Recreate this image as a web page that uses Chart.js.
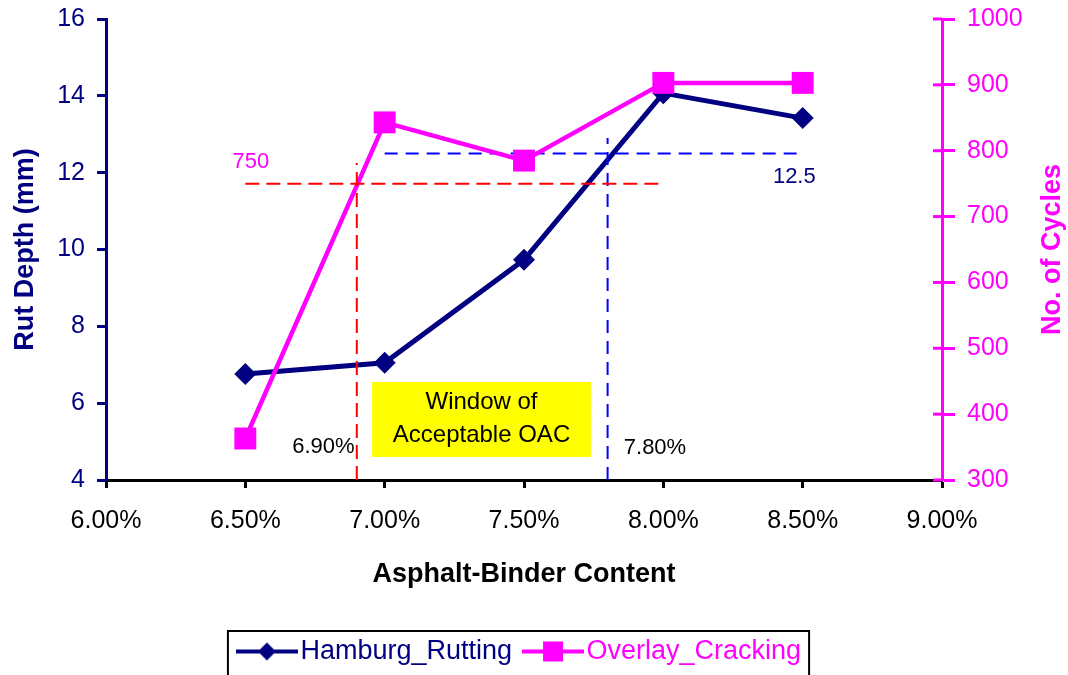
<!DOCTYPE html>
<html>
<head>
<meta charset="utf-8">
<script src="https://cdn.jsdelivr.net/npm/chart.js@4"></script>
<style>
  body { margin: 0; background: #fff; }
  #wrap { width: 1068px; height: 675px; }
</style>
</head>
<body>
<div id="wrap"><canvas id="chart" width="1068" height="675"></canvas></div>
<script>
// Data
const binderContent = [6.5, 7.0, 7.5, 8.0, 8.5];        // %
const rutDepth = [6.76, 7.05, 9.73, 14.07, 13.42];      // mm (left axis)
const overlayCycles = [363, 843, 785, 903, 903];        // cycles (right axis)

// Reference / criteria lines
const cycleLimit = 750;       // red horizontal, right axis
const rutLimit = 12.5;        // blue horizontal, left axis
const oacLow = 6.9;           // red vertical
const oacHigh = 7.8;          // blue vertical
const redLineX = [6.5, 8.0];
const blueLineX = [7.0, 8.5];
const redVertTop = 12.25;
const blueVertTop = 12.9;

// Axis ranges
const xMin = 6, xMax = 9, xStep = 0.5;
const rutMin = 4, rutMax = 16, rutStep = 2;
const cycMin = 300, cycMax = 1000, cycStep = 100;

const NAVY = '#000080';
const MAGENTA = '#FF00FF';
const FONT = "'Liberation Sans', Arial, sans-serif";

// small legend symbols: a line with the series marker on it
function legendSymbol(color, marker) {
    const c = document.createElement('canvas');
    c.width = 62; c.height = 30;
    const g = c.getContext('2d');
    g.strokeStyle = color;
    g.lineWidth = 4;
    g.beginPath();
    g.moveTo(0, 15); g.lineTo(62, 15);
    g.stroke();
    g.fillStyle = color;
    g.beginPath();
    if (marker === 'diamond') {
        g.moveTo(31, 6); g.lineTo(40, 15); g.lineTo(31, 24); g.lineTo(22, 15);
    } else {
        g.rect(21, 5, 20, 20);
    }
    g.fill();
    return c;
}
const hamburgSymbol = legendSymbol(NAVY, 'diamond');
const overlaySymbol = legendSymbol(MAGENTA, 'square');

// annotation texts and the yellow box, placed in data units
const annotations = [
    { text: '750', x: 6.52, y: 783, axis: 'y2', color: MAGENTA },
    { text: '12.5', x: 8.47, y: 11.9, axis: 'y', color: NAVY },
    { text: '6.90%', x: 6.78, y: 4.86, axis: 'y', color: '#000' },
    { text: '7.80%', x: 7.97, y: 4.83, axis: 'y', color: '#000' }
];
const windowBox = { x0: 6.955, x1: 7.74, y0: 6.55, y1: 4.6 };
const windowText = ['Window of', 'Acceptable OAC'];

// keep the plot top where the original has it (tick labels may overhang)
function noOverhang(scale) {
    scale.paddingTop = 0;
    scale.paddingBottom = 0;
}

const annotatePlugin = {
    id: 'annotate',
    afterLayout(chart) {
        // legend group sits a little left of centre in the original
        chart.legend.left -= 10;
        chart.legend.right -= 10;
    },
    beforeDatasetsDraw(chart) {
        const ctx = chart.ctx;
        const xs = chart.scales.x, ys = chart.scales.y;
        const l = xs.getPixelForValue(windowBox.x0), r = xs.getPixelForValue(windowBox.x1);
        const t = ys.getPixelForValue(windowBox.y0), b = ys.getPixelForValue(windowBox.y1);
        ctx.save();
        ctx.fillStyle = '#FFFF00';
        ctx.fillRect(l, t, r - l, b - t);
        ctx.fillStyle = '#000';
        ctx.font = '24px ' + FONT;
        ctx.textAlign = 'center';
        ctx.textBaseline = 'middle';
        const cx = (l + r) / 2;
        ctx.fillText(windowText[0], cx, t + 20);
        ctx.fillText(windowText[1], cx, t + 53);
        ctx.restore();
    },
    afterDatasetsDraw(chart) {
        const ctx = chart.ctx;
        ctx.save();
        ctx.font = '22px ' + FONT;
        ctx.textAlign = 'center';
        ctx.textBaseline = 'middle';
        annotations.forEach(a => {
            ctx.fillStyle = a.color;
            ctx.fillText(a.text, chart.scales.x.getPixelForValue(a.x), chart.scales[a.axis].getPixelForValue(a.y));
        });
        ctx.restore();
    },
    afterDraw(chart) {
        const ctx = chart.ctx;
        const ys2 = chart.scales.y2;
        // right axis tick marks cross the axis line
        ctx.save();
        ctx.strokeStyle = MAGENTA;
        ctx.lineWidth = 3;
        ys2.ticks.forEach(t => {
            const py = ys2.getPixelForValue(t.value);
            ctx.beginPath();
            ctx.moveTo(ys2.left - 9, py);
            ctx.lineTo(ys2.left, py);
            ctx.stroke();
        });
        ctx.restore();
        // right axis title, reading bottom to top as in the original
        ctx.save();
        ctx.translate(chart.width - 15, (ys2.top + ys2.bottom) / 2);
        ctx.rotate(-Math.PI / 2);
        ctx.fillStyle = MAGENTA;
        ctx.font = 'bold 27px ' + FONT;
        ctx.textAlign = 'center';
        ctx.textBaseline = 'middle';
        ctx.fillText('No. of Cycles', 0, 0);
        ctx.restore();
        // frame round the legend
        const boxes = chart.legend.legendHitBoxes;
        if (boxes && boxes.length) {
            const first = boxes[0], last = boxes[boxes.length - 1];
            const left = first.left - 19;
            const right = last.left + last.width + 8;
            ctx.save();
            ctx.strokeStyle = '#000';
            ctx.lineWidth = 2;
            ctx.strokeRect(left, first.top - 7, right - left, 46);
            ctx.restore();
        }
    }
};

const ctx = document.getElementById('chart').getContext('2d');
new Chart(ctx, {
    type: 'line',
    data: {
        datasets: [
            {
                label: 'Hamburg_Rutting',
                data: binderContent.map((x, i) => ({ x: x, y: rutDepth[i] })),
                yAxisID: 'y',
                borderColor: NAVY,
                backgroundColor: NAVY,
                borderWidth: 5,
                pointStyle: 'rectRot',
                pointRadius: 11,
                pointBorderWidth: 0,
                order: 2
            },
            {
                label: 'Overlay_Cracking',
                data: binderContent.map((x, i) => ({ x: x, y: overlayCycles[i] })),
                yAxisID: 'y2',
                borderColor: MAGENTA,
                backgroundColor: MAGENTA,
                borderWidth: 4.5,
                pointStyle: 'rect',
                pointRadius: 15.5,
                pointBorderWidth: 0,
                order: 1
            },
            {
                label: 'cycle limit',
                data: redLineX.map(x => ({ x: x, y: cycleLimit })),
                yAxisID: 'y2',
                borderColor: '#FF0000',
                borderWidth: 2,
                borderDash: [14, 7],
                pointRadius: 0,
                order: 0
            },
            {
                label: 'oac low',
                data: [{ x: oacLow, y: rutMin }, { x: oacLow, y: redVertTop }],
                yAxisID: 'y',
                borderColor: '#FF0000',
                borderWidth: 2,
                borderDash: [14, 7],
                pointRadius: 0,
                order: 0
            },
            {
                label: 'rut limit',
                data: blueLineX.map(x => ({ x: x, y: rutLimit })),
                yAxisID: 'y',
                borderColor: '#0000FF',
                borderWidth: 2,
                borderDash: [13, 8],
                pointRadius: 0,
                order: 3
            },
            {
                label: 'oac high',
                data: [{ x: oacHigh, y: rutMin }, { x: oacHigh, y: blueVertTop }],
                yAxisID: 'y',
                borderColor: '#0000FF',
                borderWidth: 2,
                borderDash: [13, 8],
                pointRadius: 0,
                order: 0
            }
        ]
    },
    options: {
        responsive: false,
        animation: false,
        layout: { padding: { top: 19, bottom: 0, left: 0, right: 0 } },
        elements: { line: { tension: 0 } },
        scales: {
            x: {
                type: 'linear',
                min: xMin,
                max: xMax,
                afterFit(scale) { scale.height = 137; },
                ticks: {
                    stepSize: xStep,
                    color: '#000',
                    font: { family: FONT, size: 25 },
                    padding: 18,
                    callback: v => v.toFixed(2) + '%'
                },
                grid: { drawOnChartArea: false, tickLength: 8, tickColor: '#000', tickWidth: 3 },
                border: { color: '#000', width: 3 },
                title: {
                    display: true,
                    text: 'Asphalt-Binder Content',
                    color: '#000',
                    font: { family: FONT, size: 27, weight: 'bold' },
                    padding: { top: 0, bottom: 26 }
                }
            },
            y: {
                position: 'left',
                min: rutMin,
                max: rutMax,
                afterFit(scale) { scale.width = 106; noOverhang(scale); },
                ticks: {
                    stepSize: rutStep,
                    color: NAVY,
                    font: { family: FONT, size: 25 },
                    padding: 12
                },
                grid: { drawOnChartArea: false, tickLength: 9, tickColor: NAVY, tickWidth: 3 },
                border: { color: NAVY, width: 3 },
                title: {
                    display: true,
                    text: 'Rut Depth (mm)',
                    color: NAVY,
                    font: { family: FONT, size: 27, weight: 'bold' },
                    padding: { top: 9, bottom: 0 }
                }
            },
            y2: {
                position: 'right',
                min: cycMin,
                max: cycMax,
                afterFit(scale) { scale.width = 126; noOverhang(scale); },
                ticks: {
                    stepSize: cycStep,
                    color: MAGENTA,
                    font: { family: FONT, size: 25 },
                    padding: 12,
                    callback: v => String(v)
                },
                grid: { drawOnChartArea: false, tickLength: 13, tickColor: MAGENTA, tickWidth: 3 },
                border: { color: MAGENTA, width: 3 },
                title: { display: false }
            }
        },
        plugins: {
            tooltip: { enabled: false },
            legend: {
                display: true,
                position: 'bottom',
                labels: {
                    usePointStyle: true,
                    pointStyleWidth: 40,
                    padding: 21,
                    font: { family: FONT, size: 27 },
                    generateLabels(chart) {
                        return [
                            { text: 'Hamburg_Rutting', fontColor: NAVY, pointStyle: hamburgSymbol, datasetIndex: 0, lineWidth: 0, strokeStyle: 'transparent', fillStyle: NAVY },
                            { text: 'Overlay_Cracking', fontColor: MAGENTA, pointStyle: overlaySymbol, datasetIndex: 1, lineWidth: 0, strokeStyle: 'transparent', fillStyle: MAGENTA }
                        ];
                    }
                }
            }
        }
    },
    plugins: [annotatePlugin]
});
</script>
</body>
</html>
